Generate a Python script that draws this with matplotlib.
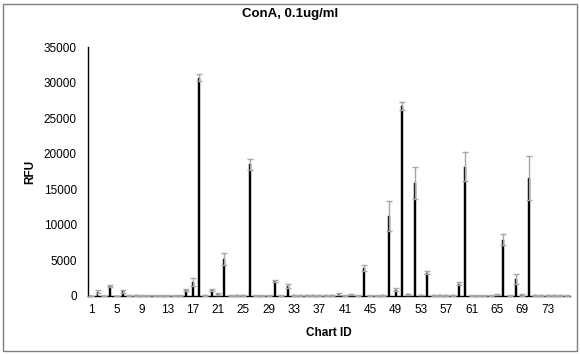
import matplotlib.pyplot as plt
from matplotlib.patches import Rectangle
import numpy as np

plt.rcParams['font.family'] = ['Liberation Sans', 'DejaVu Sans']

# RFU por chart ID (1..76) y su desviacion
chart_ids = list(range(1, 77))
rfu = [0, 600, 0, 1400, 0, 650, 50, 80, 60, 60,
       50, 50, 60, 60, 50, 900, 2000, 30700, 80, 900,
       250, 5200, 50, 120, 120, 18500, 50, 50, 50, 2100,
       50, 1400, 80, 80, 80, 80, 80, 80, 80, 300,
       50, 200, 50, 3900, 50, 50, 100, 11300, 900, 26700,
       250, 15900, 150, 3300, 100, 100, 100, 100, 1700, 18200,
       50, 50, 50, 50, 200, 7900, 50, 2350, 150, 16600,
       80, 80, 80, 80, 80, 60]
err = [0, 200, 0, 200, 0, 200, 30, 30, 30, 30,
       30, 30, 30, 30, 30, 150, 600, 500, 30, 150,
       150, 900, 30, 50, 50, 800, 30, 30, 30, 200,
       30, 250, 40, 40, 40, 40, 40, 40, 40, 150,
       30, 100, 30, 400, 30, 30, 60, 2100, 200, 600,
       100, 2200, 60, 250, 50, 50, 50, 50, 200, 2000,
       30, 30, 30, 30, 100, 800, 30, 700, 80, 3100,
       40, 40, 40, 40, 40, 30]
tick_ids = list(range(1, 77, 4))

fig = plt.figure(figsize=(5.8, 3.54), dpi=100)
ax = fig.add_axes([88 / 580, 1 - 296 / 354, 482 / 580, 249 / 354])

ax.bar(chart_ids, rfu, width=0.3, color='black', edgecolor='black', lw=0.3, zorder=2)
ax.errorbar(chart_ids, rfu, yerr=err, fmt='none', ecolor='#a6a6a6',
            elinewidth=1, capsize=2.2, capthick=1, zorder=3)

ax.set_xlim(0.5, 76.5)
ax.set_ylim(0, 35000)
ax.set_yticks(np.arange(0, 35001, 5000))
ax.set_xticks(tick_ids)
ax.tick_params(length=0, labelsize=8.5, pad=6)
ax.tick_params(axis='y', pad=8)

for s in ['top', 'right']:
    ax.spines[s].set_visible(False)
for s in ['left', 'bottom']:
    ax.spines[s].set_color('black')
    ax.spines[s].set_linewidth(1)

fig.text(30 / 580, 1 - 172 / 354, 'RFU', ha='center', va='center', rotation=90,
         fontsize=8.5, fontweight='bold')
fig.text(0.5, 1 - 14 / 354, 'ConA, 0.1ug/ml', ha='center', va='center',
         fontsize=9.5, fontweight='bold')
fig.text(329 / 580, 1 - 333 / 354, 'Chart ID', ha='center', va='center',
         fontsize=8.5, fontweight='bold')

# marco exterior del grafico
fig.patches.append(Rectangle((3 / 580, 3 / 354), 574 / 580, 347 / 354,
                             transform=fig.transFigure, fill=False,
                             edgecolor='#7f7f7f', lw=1))

fig.savefig('out.png', dpi=100)
